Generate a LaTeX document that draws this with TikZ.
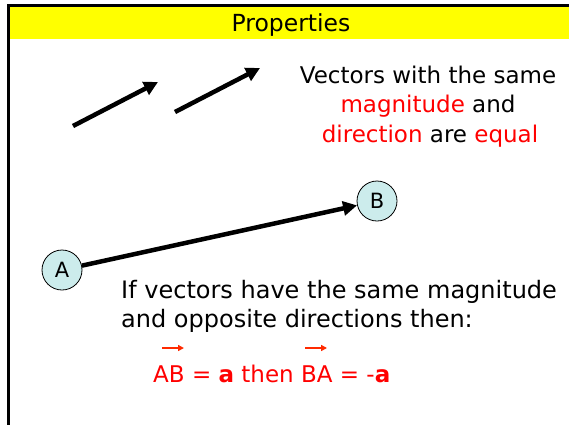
\documentclass[tikz,border=0pt]{standalone}
\usepackage{fontspec}
\setmainfont{DejaVu Sans}
\usetikzlibrary{arrows.meta}
\definecolor{ttl}{HTML}{FFFF00}
\definecolor{circ}{HTML}{CCECEC}
\definecolor{vred}{HTML}{FF0000}
\definecolor{ored}{HTML}{FF2A00}
\tikzset{
  vecarrow/.style={line width=4.5pt,-{Triangle[length=14pt,width=14pt]}},
  ptcircle/.style={circle,draw=black,line width=0.8pt,fill=circ,minimum size=40pt,inner sep=0pt,font=\fontsize{21}{21}\selectfont},
  toptext/.style={inner sep=0pt,anchor=base,font=\fontsize{23}{23}\selectfont},
  lowtext/.style={inner sep=0pt,anchor=base west,font=\fontsize{24}{24}\selectfont},
  smallarr/.style={ored,line width=1.8pt,-{Triangle[length=6pt,width=6pt]}}
}
\begin{document}
\begin{tikzpicture}[x=1pt,y=-1pt]
\useasboundingbox (0,0) rectangle (569,424);
\fill[white] (0,0) rectangle (569,424);
\fill[ttl] (10,6) rectangle (569,39);
\draw[line width=3pt] (8.5,430) -- (8.5,5) -- (575,5);
\node[inner sep=0pt,anchor=base,font=\fontsize{23.5}{23.5}\selectfont] (title) at (291,31) {Properties};
% two equal vectors
\coordinate (v1s) at (73,126);
\coordinate (v1e) at (158,82);
\coordinate (v2s) at (175,112);
\coordinate (v2e) at (260,68);
\draw[vecarrow] (v1s) -- (v1e);
\draw[vecarrow] (v2s) -- (v2e);
\node[toptext] (eq1) at (428,83) {Vectors with the same};
\node[toptext] (eq2) at (428,112) {\textcolor{vred}{magnitude} and};
\node[toptext] (eq3) at (430,142) {\textcolor{vred}{direction} are \textcolor{vred}{equal}};
% A and B
\node[ptcircle] (A) at (62,270) {A};
\node[ptcircle] (B) at (377,201) {B};
\draw[vecarrow] (A) -- (B);
\node[lowtext] (opp1) at (121,298) {If vectors have the same magnitude};
\node[lowtext] (opp2) at (121,327) {and opposite directions then:};
\node[inner sep=0pt,anchor=base west,font=\fontsize{23}{23}\selectfont,text=vred] (res) at (153,382) {AB = \textbf{a} then BA = -\textbf{a}};
\draw[smallarr] (162,348) -- (184,348);
\draw[smallarr] (305,348) -- (327,348);
\end{tikzpicture}
\end{document}
